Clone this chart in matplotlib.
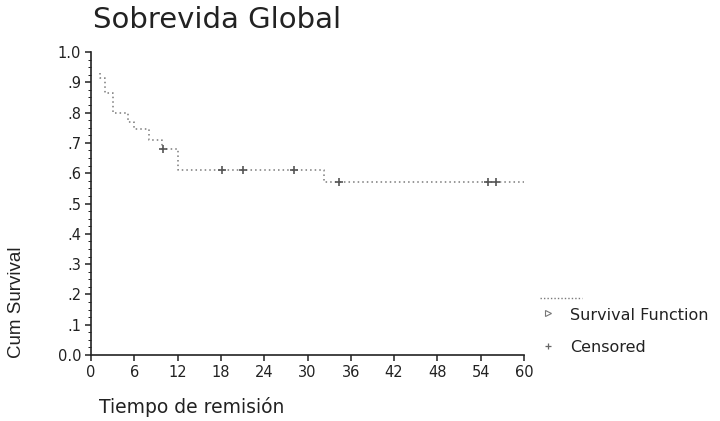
import numpy as np
import matplotlib
matplotlib.use("Agg")
import matplotlib.pyplot as plt
from matplotlib.lines import Line2D

# ---- data ----
event_times = [1.2, 1.3, 2.0, 3.1, 5.1, 5.9, 8.1, 9.9, 12.0, 32.3, 60.0]
survival = [0.93, 0.915, 0.865, 0.80, 0.77, 0.745, 0.71, 0.68, 0.61, 0.572, 0.572]
censored_times = [10.0, 18.1, 21.1, 28.1, 34.3, 55.0, 56.1]
x_ticks = [0, 6, 12, 18, 24, 30, 36, 42, 48, 54, 60]
y_ticks = [0.0, 0.1, 0.2, 0.3, 0.4, 0.5, 0.6, 0.7, 0.8, 0.9, 1.0]
y_tick_labels = ["0.0", ".1", ".2", ".3", ".4", ".5", ".6", ".7", ".8", ".9", "1.0"]

title = "Sobrevida Global"
xlabel = "Tiempo de remisión"
ylabel = "Cum Survival"
legend_labels = ["Survival Function", "Censored"]

ink = "#222222"
curve_col = "#7a7a7a"

W, H = 720, 421
fig = plt.figure(figsize=(7.2, 4.21), dpi=100)
fig.patch.set_facecolor("white")

x0, x1 = 91, 524
y0, y1 = 355, 52
ax = fig.add_axes([x0 / W, 1 - y0 / H, (x1 - x0) / W, (y0 - y1) / H])
ax.set_facecolor("white")

ax.step(event_times, survival, where="post", color=curve_col, lw=1.1,
        linestyle=(0, (1, 2)))

# censored marks on the curve
et = np.array(event_times)
sv = np.array(survival)
cens_y = [sv[np.searchsorted(et, t, side="right") - 1] for t in censored_times]
ax.plot(censored_times, cens_y, linestyle="none", marker="+", ms=6, mew=1.2,
        color="#555555")

ax.set_xlim(0, 60)
ax.set_ylim(0, 1.0)
ax.set_xticks(x_ticks)
ax.set_xticklabels([str(v) for v in x_ticks])
ax.set_yticks(y_ticks)
ax.set_yticklabels(y_tick_labels)
ax.set_yticks(np.arange(0, 1.0001, 0.025), minor=True)

for s in ["top", "right"]:
    ax.spines[s].set_visible(False)
for s in ["left", "bottom"]:
    ax.spines[s].set_color(ink)
    ax.spines[s].set_linewidth(1.2)

ax.tick_params(axis="both", which="major", length=4, width=1.1, color=ink,
               labelsize=10.5, labelcolor=ink, pad=3)
ax.tick_params(axis="y", which="minor", length=2, width=0.7, color=ink)
for lab in ax.get_xticklabels() + ax.get_yticklabels():
    lab.set_family("DejaVu Sans")

# titles / labels
fig.text(93 / W, 1 - 20 / H, title, fontsize=21, family="DejaVu Sans",
         color=ink, ha="left", va="center")
fig.text(99 / W, 1 - 407 / H, xlabel, fontsize=13.5, family="DejaVu Sans",
         color=ink, ha="left", va="center")
fig.text(17 / W, 1 - 302 / H, ylabel, fontsize=13.5, family="Liberation Sans",
         color=ink, ha="center", va="center", rotation=90)

# legend (manual)
fig.add_artist(Line2D([540 / W, 582 / W], [1 - 298 / H, 1 - 298 / H],
                      transform=fig.transFigure, color=curve_col, lw=1.0,
                      linestyle=(0, (1, 1.5))))
fig.add_artist(Line2D([548 / W], [1 - 313 / H], transform=fig.transFigure,
                      marker=">", ms=4, mfc="none", mec="#777777", mew=0.8,
                      linestyle="none"))
fig.add_artist(Line2D([548 / W], [1 - 346 / H], transform=fig.transFigure,
                      marker="+", ms=5, mec="#666666", mew=0.9,
                      linestyle="none"))
fig.text(570 / W, 1 - 315 / H, legend_labels[0], fontsize=11.5, family="DejaVu Sans",
         color=ink, ha="left", va="center")
fig.text(570 / W, 1 - 348 / H, legend_labels[1], fontsize=11.5, family="DejaVu Sans",
         color=ink, ha="left", va="center")

fig.savefig("out.png", dpi=100, facecolor="white")
